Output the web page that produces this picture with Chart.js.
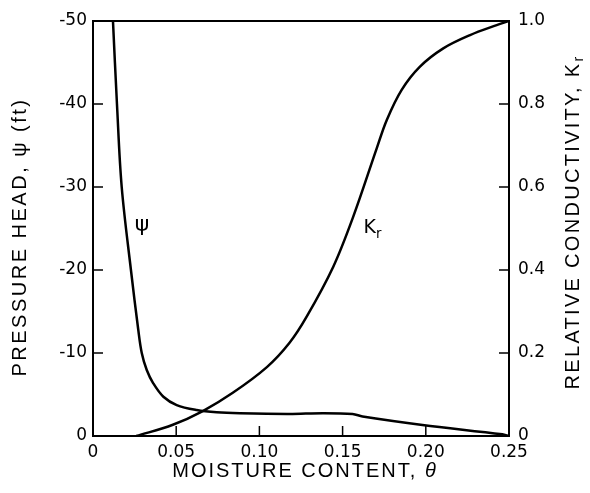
<!DOCTYPE html>
<html lang="en">
<head>
    <meta charset="UTF-8">
    <title>Pressure head and relative conductivity vs moisture content</title>
    <script src="https://cdn.jsdelivr.net/npm/chart.js"></script>
    <style>
        html, body { margin: 0; padding: 0; background: #fff; }
        #wrap { width: 590px; height: 493px; }
    </style>
</head>
<body>
    <div id="wrap"><canvas id="soilChart" width="590" height="493"></canvas></div>

    <script>
        // moisture content theta and pressure head psi (ft)
        const psiTheta = [0.012, 0.0144, 0.01725, 0.0228, 0.0272, 0.0293, 0.0323, 0.0362, 0.0423, 0.0503, 0.0623, 0.0743, 0.0883, 0.118, 0.138, 0.156, 0.162, 0.198, 0.246, 0.25];
        const psiValues = [-50, -40, -30, -20, -12.8, -10, -7.95, -6.35, -4.73, -3.73, -3.13, -2.85, -2.73, -2.65, -2.75, -2.65, -2.35, -1.33, -0.2, 0];

        // moisture content theta and relative conductivity Kr
        const krTheta = [0.026, 0.048, 0.066, 0.084, 0.1045, 0.118, 0.1284, 0.1444, 0.1564, 0.1705, 0.1765, 0.1855, 0.1965, 0.2105, 0.2266, 0.2426, 0.25];
        const krValues = [0, 0.027, 0.06, 0.104, 0.166, 0.224, 0.2875, 0.408, 0.5285, 0.693, 0.761, 0.834, 0.890, 0.934, 0.966, 0.990, 1.0];

        const xTicks = [0, 0.05, 0.10, 0.15, 0.20, 0.25];
        const xTickLabels = ['0', '0.05', '0.10', '0.15', '0.20', '0.25'];
        const psiTicks = [-50, -40, -30, -20, -10, 0];
        const psiTickLabels = ['-50', '-40', '-30', '-20', '-10', '0'];
        const krTicks = [0, 0.2, 0.4, 0.6, 0.8, 1.0];
        const krTickLabels = ['0', '0.2', '0.4', '0.6', '0.8', '1.0'];

        const FONT = '"Liberation Sans", Arial, sans-serif';
        const TICK_FONT = '"DejaVu Sans", sans-serif';
        Chart.defaults.font.family = TICK_FONT;
        Chart.defaults.color = '#000';
        const tickFont = { family: TICK_FONT, size: 17 };

        function toPoints(xs, ys) {
            return xs.map((x, i) => ({ x: x, y: ys[i] }));
        }

        // draw a run of text pieces (normal / subscript / italic) centred at x,y
        function drawParts(ctx, parts, x, y, angle, size, spacing, family) {
            ctx.save();
            ctx.translate(x, y);
            ctx.rotate(angle);
            ctx.letterSpacing = spacing + 'px';
            ctx.textBaseline = 'middle';
            ctx.textAlign = 'left';
            const fam = family || FONT;
            let total = 0;
            const widths = parts.map(p => {
                const s = p.sub ? size * 0.7 : size;
                ctx.font = (p.italic ? 'italic ' : '') + s + 'px ' + fam;
                const w = ctx.measureText(p.t).width;
                total += w;
                return w;
            });
            let cx = -total / 2;
            parts.forEach((p, i) => {
                const s = p.sub ? size * 0.7 : size;
                ctx.font = (p.italic ? 'italic ' : '') + s + 'px ' + fam;
                ctx.fillText(p.t, cx, p.sub ? size * 0.3 : 0);
                cx += widths[i];
            });
            ctx.restore();
        }

        const framePlugin = {
            id: 'frame',
            afterDraw(chart) {
                const ctx = chart.ctx;
                const a = chart.chartArea;
                const sx = chart.scales.x, sl = chart.scales.yPsi, sr = chart.scales.yKr;
                ctx.save();
                ctx.strokeStyle = '#000';
                ctx.lineWidth = 2;
                ctx.strokeRect(a.left, a.top, a.right - a.left, a.bottom - a.top);

                // inward tick marks
                ctx.lineWidth = 1.5;
                ctx.beginPath();
                xTicks.slice(1, -1).forEach(v => {
                    const px = sx.getPixelForValue(v);
                    ctx.moveTo(px, a.bottom);
                    ctx.lineTo(px, a.bottom - 10);
                });
                psiTicks.slice(1, -1).forEach(v => {
                    const py = sl.getPixelForValue(v);
                    ctx.moveTo(a.left, py);
                    ctx.lineTo(a.left + 10, py);
                });
                krTicks.slice(1, -1).forEach(v => {
                    const py = sr.getPixelForValue(v);
                    ctx.moveTo(a.right, py);
                    ctx.lineTo(a.right - 10, py);
                });
                ctx.stroke();

                ctx.fillStyle = '#000';
                // axis titles
                drawParts(ctx, [{ t: 'MOISTURE CONTENT, ' }, { t: 'θ', italic: true }], 305, 471, 0, 20, 2);
                drawParts(ctx, [{ t: 'PRESSURE HEAD, ψ (ft)' }], 20, 237, -Math.PI / 2, 20, 2.5);
                drawParts(ctx, [{ t: 'RELATIVE CONDUCTIVITY, K' }, { t: 'r', sub: true }], 573, 222, -Math.PI / 2, 20, 2.3);

                // curve labels
                drawParts(ctx, [{ t: 'ψ' }], sx.getPixelForValue(0.0294), sl.getPixelForValue(-25.4), 0, 22, 0, TICK_FONT);
                drawParts(ctx, [{ t: 'K' }, { t: 'r', sub: true }], sx.getPixelForValue(0.168), sr.getPixelForValue(0.50), 0, 19, 0, TICK_FONT);
                ctx.restore();
            }
        };

        const ctx = document.getElementById('soilChart').getContext('2d');
        const chart = new Chart(ctx, {
            type: 'scatter',
            data: {
                datasets: [{
                    label: 'ψ',
                    data: toPoints(psiTheta, psiValues),
                    yAxisID: 'yPsi',
                    showLine: true,
                    borderColor: '#000',
                    borderWidth: 2.5,
                    pointRadius: 0,
                    tension: 0.35
                }, {
                    label: 'Kr',
                    data: toPoints(krTheta, krValues),
                    yAxisID: 'yKr',
                    showLine: true,
                    borderColor: '#000',
                    borderWidth: 2.5,
                    pointRadius: 0,
                    tension: 0.35
                }]
            },
            options: {
                responsive: false,
                animation: false,
                events: [],
                layout: { padding: { top: 21, left: 0, right: 0, bottom: 0 } },
                plugins: { legend: { display: false }, tooltip: { enabled: false } },
                scales: {
                    x: {
                        type: 'linear',
                        position: 'bottom',
                        min: 0,
                        max: 0.25,
                        grid: { display: false, drawTicks: false },
                        border: { display: false },
                        ticks: {
                            padding: 6,
                            color: '#000',
                            font: tickFont,
                            maxRotation: 0,
                            callback: (v) => {
                                const i = xTicks.findIndex(t => Math.abs(t - v) < 1e-9);
                                return i >= 0 ? xTickLabels[i] : '';
                            }
                        },
                        afterBuildTicks: (s) => { s.ticks = xTicks.map(v => ({ value: v })); },
                        afterFit: (s) => { s.height = 57; }
                    },
                    yPsi: {
                        type: 'linear',
                        position: 'left',
                        min: -50,
                        max: 0,
                        reverse: true,
                        grid: { display: false, drawTicks: false },
                        border: { display: false },
                        ticks: {
                            padding: 6,
                            color: '#000',
                            font: tickFont,
                            callback: (v) => {
                                const i = psiTicks.indexOf(v);
                                return i >= 0 ? psiTickLabels[i] : '';
                            }
                        },
                        afterBuildTicks: (s) => { s.ticks = psiTicks.map(v => ({ value: v })); },
                        afterFit: (s) => { s.width = 93; }
                    },
                    yKr: {
                        type: 'linear',
                        position: 'right',
                        min: 0,
                        max: 1,
                        grid: { display: false, drawTicks: false },
                        border: { display: false },
                        ticks: {
                            padding: 9,
                            color: '#000',
                            font: tickFont,
                            callback: (v) => {
                                const i = krTicks.findIndex(t => Math.abs(t - v) < 1e-9);
                                return i >= 0 ? krTickLabels[i] : '';
                            }
                        },
                        afterBuildTicks: (s) => { s.ticks = krTicks.map(v => ({ value: v })); },
                        afterFit: (s) => { s.width = 81; }
                    }
                }
            },
            plugins: [framePlugin]
        });
    </script>
</body>
</html>
